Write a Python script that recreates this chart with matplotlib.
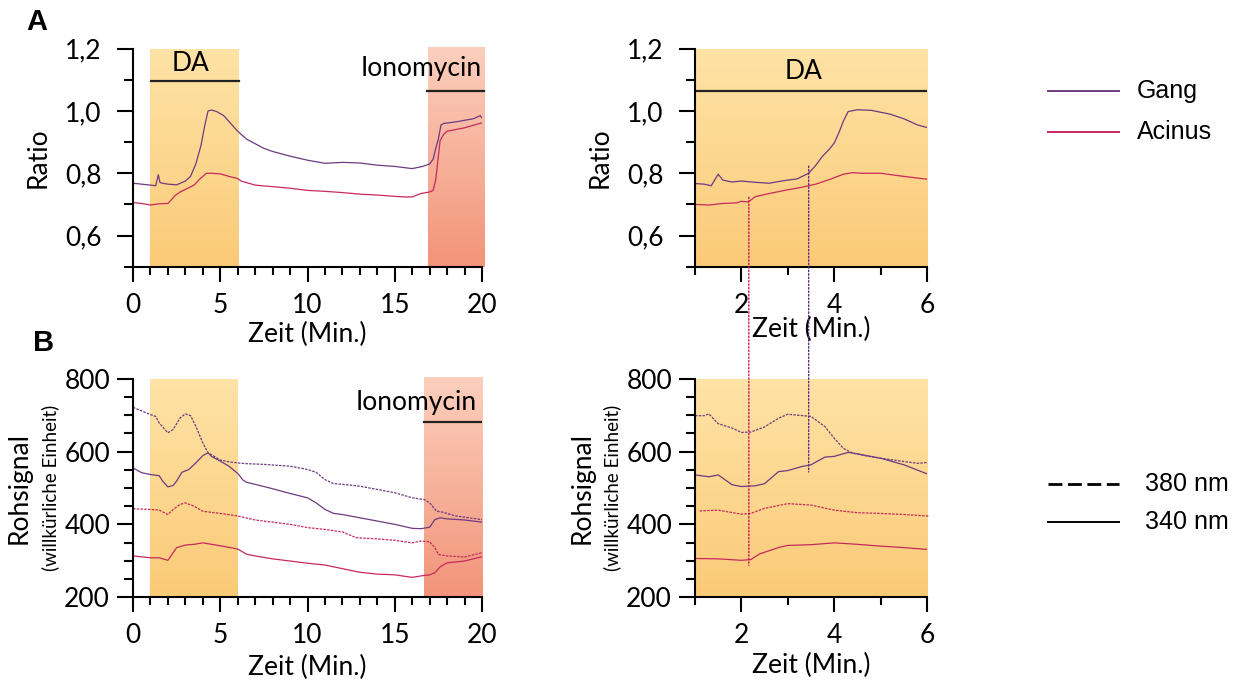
import matplotlib
matplotlib.use("Agg")
import matplotlib.pyplot as plt
import numpy as np
from matplotlib.colors import LinearSegmentedColormap
from matplotlib.patches import ConnectionPatch
from matplotlib.lines import Line2D
from matplotlib.ticker import MultipleLocator, FixedLocator

plt.rcParams['font.family'] = ['Lato', 'DejaVu Sans']

# ---- Daten ----
# A links: Ratio ueber 20 min
a_gang_t = [0, 0.5, 1.0, 1.3, 1.45, 1.55, 1.7, 2.0, 2.5, 3.0, 3.3, 3.6, 3.9, 4.1, 4.3, 4.5, 4.8, 5.2, 5.6,
            6.0, 6.5, 7.0, 7.5, 8.0, 9.0, 10.0, 11.0, 12.0, 13.0, 14.0, 15.0, 16.0, 16.6, 17.0, 17.2, 17.35,
            17.5, 17.65, 17.8, 18.5, 19.0, 19.5, 19.9, 20.0]
a_gang_r = [0.768, 0.765, 0.762, 0.760, 0.795, 0.770, 0.768, 0.765, 0.763, 0.775, 0.79, 0.83, 0.89, 0.95,
            1.0, 1.003, 0.998, 0.985, 0.96, 0.935, 0.91, 0.895, 0.88, 0.87, 0.855, 0.842, 0.832, 0.835,
            0.833, 0.826, 0.822, 0.815, 0.822, 0.83, 0.845, 0.88, 0.91, 0.955, 0.96, 0.965, 0.97, 0.975,
            0.985, 0.978]
a_acin_t = [0, 0.5, 1.0, 1.5, 2.0, 2.2, 2.4, 2.7, 3.0, 3.5, 3.8, 4.2, 4.5, 5.0, 5.5, 6.0, 6.2, 6.5, 7.0,
            8.0, 9.0, 10.0, 11.0, 12.0, 13.0, 14.0, 15.0, 15.5, 16.0, 16.5, 17.0, 17.2, 17.35, 17.5, 17.6,
            17.8, 18.0, 19.0, 20.0]
a_acin_r = [0.706, 0.703, 0.698, 0.702, 0.703, 0.715, 0.728, 0.74, 0.748, 0.762, 0.78, 0.80, 0.80, 0.798,
            0.79, 0.783, 0.775, 0.77, 0.762, 0.757, 0.752, 0.745, 0.742, 0.738, 0.733, 0.73, 0.726, 0.724,
            0.724, 0.735, 0.74, 0.745, 0.78, 0.855, 0.905, 0.925, 0.935, 0.946, 0.962]

# A rechts: Ausschnitt 1-6 min
z_gang_t = [1.0, 1.2, 1.35, 1.5, 1.6, 1.8, 2.0, 2.3, 2.6, 2.9, 3.2, 3.45, 3.6, 3.75, 3.9, 4.0, 4.1, 4.2,
            4.3, 4.5, 4.8, 5.2, 5.5, 5.8, 6.0]
z_gang_r = [0.767, 0.765, 0.76, 0.797, 0.778, 0.772, 0.775, 0.771, 0.768, 0.776, 0.782, 0.80, 0.825, 0.855,
            0.878, 0.897, 0.93, 0.968, 0.998, 1.004, 1.002, 0.99, 0.975, 0.955, 0.947]
z_acin_t = [1.0, 1.3, 1.6, 1.9, 2.0, 2.15, 2.3, 2.6, 3.0, 3.3, 3.6, 3.9, 4.2, 4.4, 4.6, 5.0, 5.5, 6.0]
z_acin_r = [0.70, 0.698, 0.703, 0.705, 0.71, 0.708, 0.725, 0.735, 0.747, 0.755, 0.765, 0.78, 0.797, 0.802,
            0.80, 0.80, 0.79, 0.781]

# B links: Rohsignal 380 / 340 nm
b_g380_t = [0, 1.0, 1.3, 1.5, 2.0, 2.3, 2.7, 3.0, 3.3, 3.6, 4.0, 4.3, 5.0, 5.5, 6.0, 6.5, 7.5, 9.0, 10.0,
            10.5, 11.0, 11.5, 12.0, 13.0, 14.0, 15.0, 16.0, 16.7, 17.0, 17.4, 17.7, 18.5, 20.0]
b_g380_v = [722, 702, 697, 679, 652, 661, 693, 704, 699, 670, 624, 597, 577, 572, 569, 567, 565, 560, 551,
            543, 523, 512, 510, 505, 496, 487, 473, 468, 459, 436, 434, 423, 413]
b_g340_t = [0, 0.5, 1.0, 1.5, 1.7, 2.0, 2.3, 2.5, 2.8, 3.2, 3.6, 4.0, 4.3, 4.5, 5.0, 5.5, 6.0, 6.3, 6.5,
            7.0, 8.0, 9.0, 10.0, 10.5, 11.0, 11.5, 12.0, 13.0, 14.0, 15.0, 16.0, 16.5, 17.0, 17.3, 17.6,
            18.0, 19.0, 20.0]
b_g340_v = [555, 542, 537, 534, 519, 503, 507, 519, 543, 551, 569, 589, 597, 587, 574, 560, 540, 522, 516,
            510, 498, 485, 473, 459, 441, 430, 427, 418, 409, 400, 389, 388, 392, 413, 418, 415, 412, 406]
b_a380_t = [0, 1.0, 1.5, 2.0, 2.3, 2.7, 3.0, 3.5, 4.0, 5.0, 6.0, 7.0, 8.0, 9.0, 10.0, 11.0, 12.0, 12.8,
            14.0, 15.0, 16.0, 16.5, 17.0, 17.3, 17.5, 18.0, 19.0, 20.0]
b_a380_v = [443, 441, 439, 427, 441, 455, 459, 450, 436, 430, 423, 412, 406, 400, 391, 386, 379, 363, 360,
            356, 349, 354, 352, 336, 317, 313, 310, 322]
b_a340_t = [0, 1.0, 1.5, 2.0, 2.3, 2.5, 3.0, 3.5, 4.0, 4.5, 5.0, 6.0, 6.5, 7.0, 8.0, 9.0, 10.0, 11.0, 12.0,
            13.0, 14.0, 15.0, 16.0, 16.5, 17.0, 17.3, 17.6, 18.0, 19.0, 20.0]
b_a340_v = [313, 308, 308, 301, 322, 336, 343, 345, 349, 345, 341, 332, 318, 313, 305, 299, 293, 288, 278,
            268, 263, 261, 254, 258, 261, 267, 283, 294, 299, 311]

# B rechts: Ausschnitt 1-6 min
y_g380_t = [1.0, 1.2, 1.3, 1.5, 1.8, 2.0, 2.2, 2.5, 2.8, 3.0, 3.5, 3.8, 4.0, 4.2, 4.4, 4.7, 5.0, 5.5, 5.8, 6.0]
y_g380_v = [699, 699, 704, 677, 665, 653, 654, 668, 692, 703, 697, 669, 637, 609, 596, 588, 582, 573, 568, 570]
y_g340_t = [1.0, 1.3, 1.5, 1.8, 2.0, 2.3, 2.5, 2.8, 3.0, 3.3, 3.5, 3.8, 4.0, 4.3, 4.5, 5.0, 5.5, 6.0]
y_g340_v = [536, 531, 536, 509, 504, 506, 512, 545, 548, 559, 564, 585, 587, 598, 594, 582, 564, 539]
y_a380_t = [1.1, 1.5, 2.0, 2.2, 2.5, 3.0, 3.5, 4.0, 4.5, 5.0, 5.5, 6.0, 6.05]
y_a380_v = [437, 439, 428, 430, 444, 457, 453, 439, 432, 430, 427, 423, 423]
y_a340_t = [1.0, 1.5, 2.0, 2.2, 2.4, 2.8, 3.0, 3.5, 4.0, 4.5, 5.0, 5.5, 6.0]
y_a340_v = [306, 305, 301, 303, 319, 336, 342, 344, 349, 345, 340, 336, 331]

ratio_ticks = [0.6, 0.8, 1.0, 1.2]
ratio_labels = ['0,6', '0,8', '1,0', '1,2']
roh_ticks = [200, 400, 600, 800]
roh_labels = ['200', '400', '600', '800']

GANG = '#6e3a80'
ACIN = '#c62a5c'
DA_TOP, DA_BOT = '#fee3a6', '#fbca78'
IO_TOP, IO_BOT = '#fccfbd', '#f29479'
FS = 19

fig = plt.figure(figsize=(12.37, 6.82), dpi=100)
W, H = 1237, 682


def box(x0, x1, ytop, ybot):
    return [x0 / W, 1 - ybot / H, (x1 - x0) / W, (ybot - ytop) / H]


axA1 = fig.add_axes(box(133, 482, 48.7, 266.7))
axA2 = fig.add_axes(box(695, 927, 48.7, 266.7))
axB1 = fig.add_axes(box(133, 482, 379, 597))
axB2 = fig.add_axes(box(695, 927, 379, 597))


def gradient(ax, x0, x1, y0, y1, top, bot):
    cmap = LinearSegmentedColormap.from_list('g', [top, bot])
    ax.imshow(np.linspace(0, 1, 256).reshape(-1, 1), cmap=cmap, aspect='auto',
              extent=[x0, x1, y0, y1], zorder=0, clip_on=False)


def style(ax, xmaj, xmin, ymaj, ymin):
    for s in ['top', 'right']:
        ax.spines[s].set_visible(False)
    for s in ['left', 'bottom']:
        ax.spines[s].set_linewidth(1.5)
    ax.xaxis.set_major_locator(MultipleLocator(xmaj))
    ax.xaxis.set_minor_locator(MultipleLocator(xmin))
    ax.yaxis.set_minor_locator(MultipleLocator(ymin))
    ax.tick_params(which='both', direction='out', width=1.5, labelsize=FS)
    ax.tick_params(axis='x', which='major', length=11, pad=8)
    ax.tick_params(axis='x', which='minor', length=6)
    ax.tick_params(axis='y', which='major', length=11.5)
    ax.tick_params(axis='y', which='minor', length=6.5)


# ---- A links ----
ax = axA1
gradient(ax, 1.0, 6.05, 0.5, 1.2, DA_TOP, DA_BOT)
gradient(ax, 16.9, 20.15, 0.5, 1.205, IO_TOP, IO_BOT)
ax.plot(a_gang_t, a_gang_r, color=GANG, lw=0.9)
ax.plot(a_acin_t, a_acin_r, color=ACIN, lw=0.9)
ax.plot([1.03, 6.07], [1.095, 1.095], color='#222222', lw=1.6, clip_on=False)
ax.plot([16.85, 20.1], [1.065, 1.065], color='#222222', lw=1.6, clip_on=False)
ax.text(3.3, 1.152, 'DA', fontsize=FS, ha='center', va='center')
ax.text(20.0, 1.138, 'Ionomycin', fontsize=FS, ha='right', va='center')
ax.set_xlim(0, 20)
ax.set_ylim(0.5, 1.2)
style(ax, 5, 1, 0.2, 0.1)
ax.yaxis.set_major_locator(FixedLocator(ratio_ticks))
ax.set_yticklabels(ratio_labels)
ax.tick_params(axis='y', which='major', pad=11)

# ---- A rechts ----
ax = axA2
gradient(ax, 1, 6, 0.5, 1.2, DA_TOP, DA_BOT)
ax.plot(z_gang_t, z_gang_r, color=GANG, lw=0.9)
ax.plot(z_acin_t, z_acin_r, color=ACIN, lw=0.9)
ax.plot([1, 6], [1.065, 1.065], color='#222222', lw=1.6)
ax.text(3.33, 1.128, 'DA', fontsize=FS, ha='center', va='center')
ax.set_xlim(1, 6)
ax.set_ylim(0.5, 1.2)
style(ax, 2, 1, 0.2, 0.1)
ax.yaxis.set_major_locator(FixedLocator(ratio_ticks))
ax.set_yticklabels(ratio_labels)
ax.tick_params(axis='y', which='major', pad=11)

# ---- B links ----
ax = axB1
gradient(ax, 1.0, 6.0, 200, 800, DA_TOP, DA_BOT)
gradient(ax, 16.7, 20.05, 200, 805, IO_TOP, IO_BOT)
ax.plot(b_g380_t, b_g380_v, color=GANG, lw=0.9, ls=(0, (2, 1)))
ax.plot(b_g340_t, b_g340_v, color=GANG, lw=0.9)
ax.plot(b_a380_t, b_a380_v, color=ACIN, lw=0.9, ls=(0, (2, 1)))
ax.plot(b_a340_t, b_a340_v, color=ACIN, lw=0.9)
ax.plot([16.7, 20.0], [681, 681], color='#222222', lw=1.6)
ax.text(19.7, 734, 'Ionomycin', fontsize=FS, ha='right', va='center')
ax.set_xlim(0, 20)
ax.set_ylim(200, 800)
style(ax, 5, 1, 200, 50)
ax.yaxis.set_major_locator(FixedLocator(roh_ticks))
ax.set_yticklabels(roh_labels)
ax.tick_params(axis='y', which='major', pad=5)

# ---- B rechts ----
ax = axB2
gradient(ax, 1, 6, 200, 800, DA_TOP, DA_BOT)
ax.plot(y_g380_t, y_g380_v, color=GANG, lw=0.9, ls=(0, (2, 1)))
ax.plot(y_g340_t, y_g340_v, color=GANG, lw=0.9)
ax.plot(y_a380_t, y_a380_v, color=ACIN, lw=0.9, ls=(0, (2, 1)), clip_on=False)
ax.plot(y_a340_t, y_a340_v, color=ACIN, lw=0.9)
ax.set_xlim(1, 6)
ax.set_ylim(200, 800)
style(ax, 2, 1, 200, 50)
ax.yaxis.set_major_locator(FixedLocator(roh_ticks))
ax.set_yticklabels(roh_labels)
ax.tick_params(axis='y', which='major', pad=5)

# Achsenbeschriftungen
for ax, yl in [(axA1, -0.312), (axA2, -0.289), (axB1, -0.321), (axB2, -0.312)]:
    ax.set_xlabel('Zeit (Min.)', fontsize=FS, va='center')
    ax.xaxis.set_label_coords(0.5, yl)

axA1.text(-0.272, 0.5, 'Ratio', fontsize=FS, rotation=90, ha='center', va='center',
          transform=axA1.transAxes)
axA2.text(-0.409, 0.5, 'Ratio', fontsize=FS, rotation=90, ha='center', va='center',
          transform=axA2.transAxes)
for ax, x1, x2 in [(axB1, -0.327, -0.238), (axB2, -0.487, -0.358)]:
    ax.text(x1, 0.5, 'Rohsignal', fontsize=FS, rotation=90, ha='center', va='center',
            transform=ax.transAxes)
    ax.text(x2, 0.5, '(willkürliche Einheit)', fontsize=13.5, rotation=90, ha='center', va='center',
            transform=ax.transAxes)

# gepunktete Verbindungslinien zwischen den Zoom-Panels
for t, ya, yb, c in [(2.16, 0.723, 287, '#d0105e'), (3.45, 0.823, 544, '#5a2a86')]:
    con = ConnectionPatch(xyA=(t, ya), coordsA=axA2.transData, xyB=(t, yb), coordsB=axB2.transData,
                          color=c, lw=1.0, ls=(0, (1, 1.5)))
    fig.add_artist(con)

# Panelbuchstaben
fig.text(37 / W, 1 - 22 / H, 'A', fontsize=21, fontweight='bold', ha='center', va='center',
         family='Liberation Sans')
fig.text(44 / W, 1 - 343 / H, 'B', fontsize=21, fontweight='bold', ha='center', va='center',
         family='Liberation Sans')

# Legenden
legend_items = [(91, 'Gang', GANG, '-', 1137), (132, 'Acinus', ACIN, '-', 1137),
                (484, '380 nm', 'black', (0, (5, 2)), 1145), (522, '340 nm', 'black', '-', 1145)]
for y, lab, c, ls, tx in legend_items:
    lw = 2.0 if lab == '380 nm' else 1.4
    fig.add_artist(Line2D([1048 / W, 1119 / W], [1 - y / H, 1 - y / H], color=c, lw=lw, ls=ls))
    fig.text(tx / W, 1 - y / H, lab, fontsize=18, ha='left', va='center', family='Liberation Sans')

fig.savefig('out.png', dpi=100)
